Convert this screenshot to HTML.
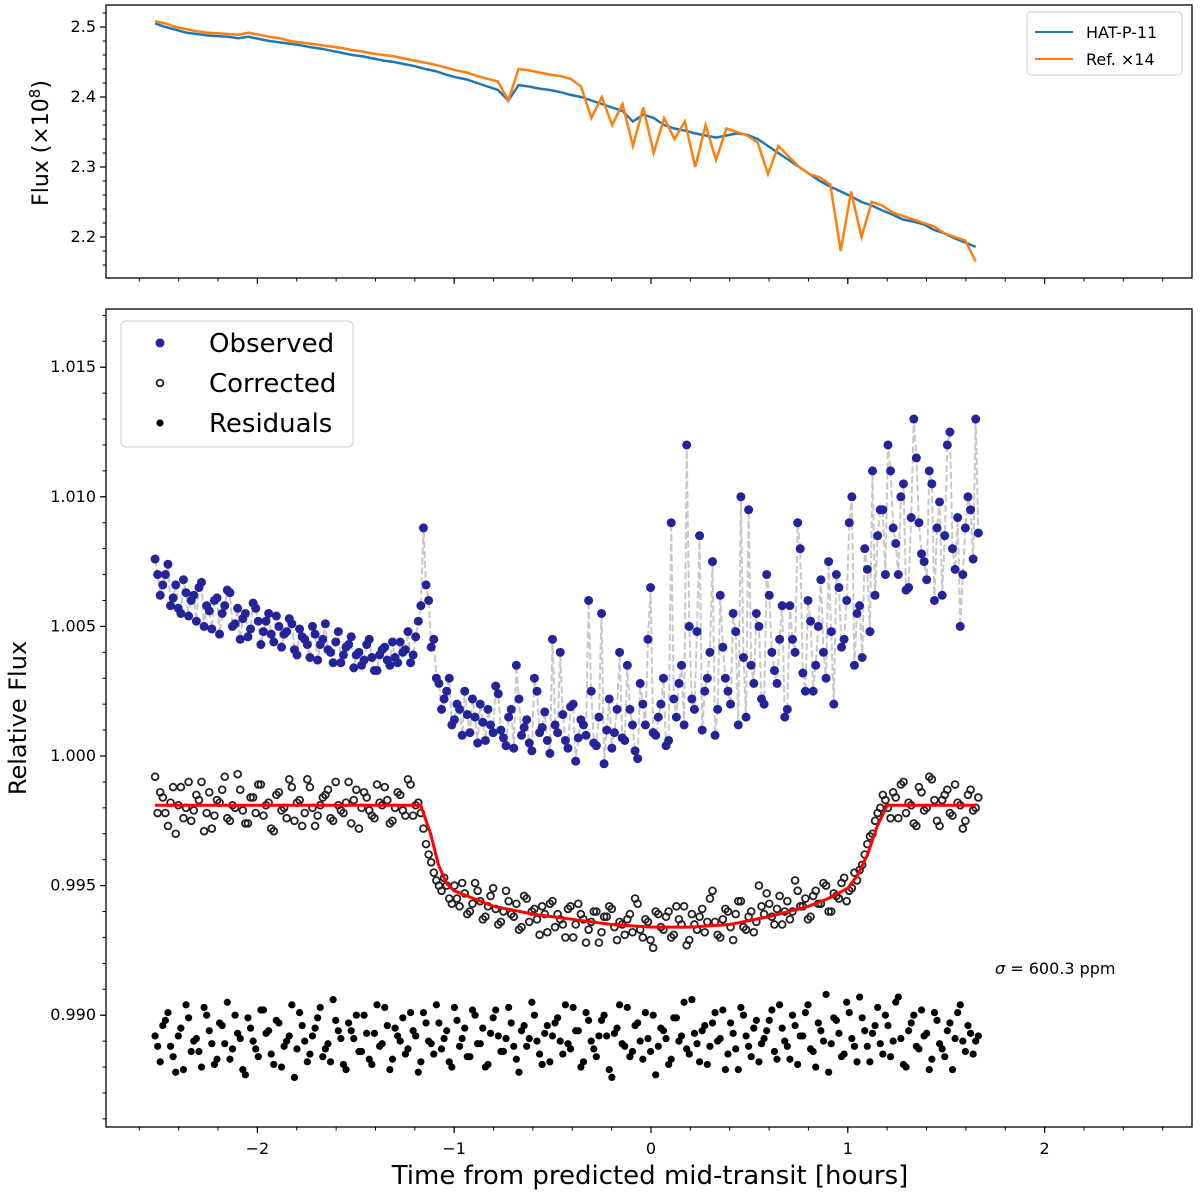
<!DOCTYPE html>
<html><head><meta charset="utf-8"><style>
body{margin:0;background:#fff}
svg{display:block;font-family:"DejaVu Sans","Liberation Sans",sans-serif}
</style></head><body>
<svg id="chart" width="1200" height="1199" viewBox="0 0 1200 1199" xmlns="http://www.w3.org/2000/svg"></svg>
<script>
// ---- data ----
const tStart = -2.52, tEnd = 1.65;
const specBlue = [2.505,2.500,2.496,2.492,2.490,2.488,2.487,2.486,2.484,2.486,
2.483,2.480,2.478,2.476,2.474,2.471,2.469,2.466,2.463,2.460,
2.458,2.455,2.452,2.450,2.447,2.444,2.440,2.437,2.432,2.428,
2.425,2.420,2.415,2.410,2.395,2.417,2.415,2.412,2.410,2.407,
2.403,2.400,2.395,2.390,2.385,2.380,2.365,2.375,2.370,2.360,
2.355,2.352,2.348,2.345,2.342,2.345,2.348,2.346,2.340,2.330,
2.320,2.310,2.300,2.290,2.280,2.272,2.265,2.258,2.250,2.245,
2.238,2.232,2.225,2.222,2.218,2.210,2.205,2.198,2.192,2.186];
const specOrange = [2.508,2.505,2.500,2.497,2.494,2.492,2.491,2.490,2.489,2.492,
2.489,2.486,2.484,2.480,2.478,2.476,2.474,2.472,2.470,2.467,
2.465,2.462,2.460,2.458,2.455,2.452,2.449,2.446,2.442,2.438,
2.435,2.430,2.426,2.422,2.395,2.440,2.438,2.435,2.432,2.430,
2.426,2.415,2.370,2.400,2.360,2.390,2.330,2.385,2.320,2.370,
2.340,2.365,2.300,2.360,2.310,2.355,2.350,2.345,2.335,2.290,
2.330,2.315,2.300,2.290,2.285,2.275,2.180,2.265,2.200,2.250,
2.245,2.235,2.230,2.225,2.220,2.215,2.205,2.200,2.195,2.165];
// relative flux values in units of 1e-4 around 1.0 (series A at integer steps, B at half steps)
const observed = [76,62,70,58,66,55,63,60,52,67,58,49,61,55,64,50,57,53,46,59,52,48,55,44,50,47,53,41,49,45,38,47,43,51,40,44,36,42,46,39,35,43,38,33,41,37,44,36,40,48,39,52,88,
60,45,28,22,30,14,18,25,9,15,20,6,12,27,
10,4,18,35,8,14,2,25,11,6,45,9,16,3,20,7,12,60,5,15,-3,22,9,40,6,18,2,28,12,65,8,20,4,90,
15,35,120,22,48,10,30,75,18,42,25,55,12,38,95,28,50,20,62,33,45,15,58,40,80,25,52,35,68,30,48,70,42,60,100,55,38,72,110,85,
95,120,88,70,105,65,130,90,75,110,60,98,85,125,72,50,88,95,130];
const observedB = [70,66,74,61,57,68,54,62,65,50,56,60,47,58,63,51,45,55,49,57,43,52,47,54,42,48,51,39,46,43,50,37,45,41,36,48,39,43,34,40,37,45,33,39,42,35,38,44,41,36,46,58,66,
42,30,18,25,12,20,8,16,22,5,13,18,9,24,
7,15,3,22,11,5,30,9,17,1,12,40,6,19,-2,14,8,25,4,55,10,3,18,7,35,12,-1,20,45,9,15,30,6,22,
28,12,50,18,85,25,40,8,62,30,20,48,100,15,35,55,22,70,40,28,58,18,45,90,32,60,25,50,40,75,20,65,45,90,35,58,80,48,62,95,
70,110,82,100,64,92,115,78,68,105,88,62,120,80,92,70,100,76,86];
const corrected = [-8,-14,-22,-18,-30,-12,-20,-25,-15,-10,-22,-28,-17,-13,-24,-19,-7,-21,-26,-16,-11,-23,-18,-29,-14,-20,-9,-25,-17,-22,-12,-27,-19,-15,-24,-10,-21,-18,-26,-13,-20,-16,-23,-11,-19,
-17,-25,-14,-21,-9,-23,-18,-28,-38,-45,-50,-47,-55,
-50,-58,-53,-60,-49,-56,-62,-54,-59,-64,-52,-61,-57,-66,-55,-60,-63,-58,-68,-56,
-61,-65,-59,-70,-57,-63,-67,-60,-72,-62,-58,-66,-64,-69,-61,-55,-67,-63,-71,-60,
-66,-62,-70,-58,-65,-73,-61,-67,-59,-64,-52,-69,-63,-60,-71,-56,-66,-62,-68,-50,
-61,-57,-65,-54,-60,-63,-48,-58,-55,-62,-52,-57,-50,-60,-54,-49,-56,-51,
-48,-42,-34,-30,-22,-15,
-20,-14,-24,-10,-18,-26,-12,-21,-8,-17,-27,-15,-22,-11,-19,-25,-13,-20];
const correctedB = [-22,-16,-27,-12,-19,-24,-10,-21,-17,-29,-14,-23,-18,-8,-25,-20,-13,-26,-16,-22,-11,-19,-28,-15,-21,-24,-12,-18,-27,-9,-20,-23,-16,-13,-25,-19,-22,-10,-17,-28,-14,-21,-24,-18,-12,-26,-20,-15,-23,-11,-19,-22,
-34,-41,-48,-52,-50,-57,
-55,-49,-61,-57,-52,-63,-58,-51,-65,-60,-56,-62,-67,-54,-64,-59,-69,-61,-57,-66,
-63,-70,-58,-65,-61,-72,-64,-60,-68,-62,-59,-71,-65,-63,-68,-57,-70,-64,-74,-61,
-67,-60,-69,-63,-58,-71,-65,-62,-68,-55,-64,-70,-59,-66,-61,-56,-67,-60,-64,-58,
-53,-62,-59,-65,-56,-60,-52,-58,-63,-54,-57,-49,-60,-53,-55,-47,-52,-45,
-44,-38,-31,-25,-20,-17,
-24,-16,-11,-22,-19,-27,-14,-20,-9,-25,-17,-13,-23,-18,-28,-15,-21,-16];
const residuals = [-108,-118,-102,-112,-122,-105,-96,-114,-109,-120,-100,-111,-117,-104,-95,-113,-107,-121,-101,-110,
-116,-98,-106,-119,-103,-112,-108,-124,-99,-110,-115,-105,-97,-113,-118,-102,-109,-121,-106,-100,
-114,-107,-119,-96,-111,-104,-117,-108,-101,-113,-106,-122,-99,-110,-115,-103,-109,-118,-97,-112,
-105,-116,-100,-111,-120,-107,-98,-114,-109,-103,-117,-106,-112,-95,-110,-119,-104,-108,-101,-115,
-111,-97,-106,-118,-102,-113,-108,-100,-121,-107,-96,-112,-116,-104,-110,-99,-114,-123,-105,-109,
-117,-101,-108,-113,-94,-111,-106,-119,-103,-110,-98,-115,-107,-121,-100,-112,-105,-118,-109,-102,
-114,-96,-110,-117,-104,-108,-99,-113,-120,-106,-92,-111,-102,-116,-95,-109,-118,-101,-112,-107,
-97,-115,-104,-110,-93,-119,-106,-100,-113,-108,-121,-99,-111,-116,-103,-109,-96,-114,-107,-110];
const residualsB = [-112,-104,-99,-116,-108,-121,-101,-110,-114,-97,-106,-119,-103,-111,-117,-100,-109,-123,-105,-113,
-98,-107,-115,-102,-120,-110,-96,-113,-104,-118,-108,-101,-116,-111,-94,-106,-119,-103,-109,-114,
-100,-117,-107,-112,-97,-121,-105,-110,-115,-99,-108,-118,-103,-111,-96,-113,-106,-120,-102,-109,
-116,-98,-111,-105,-119,-101,-108,-114,-97,-112,-122,-104,-109,-100,-115,-107,-118,-103,-110,-96,
-113,-106,-120,-99,-110,-116,-102,-108,-124,-105,-111,-97,-114,-103,-117,-109,-100,-112,-106,-119,
-101,-110,-95,-115,-107,-118,-104,-112,-99,-109,-121,-103,-113,-97,-108,-116,-102,-111,-106,-98,
-117,-105,-112,-100,-119,-108,-96,-114,-103,-110,-122,-101,-107,-115,-99,-112,-93,-106,-118,-104,
-111,-100,-116,-95,-109,-120,-103,-112,-98,-107,-117,-102,-113,-106,-121,-99,-110,-104,-115,-108];
const modelT = [-2.52,-1.17,-1.12,-1.08,-1.04,-1.0,-0.9,-0.8,-0.6,-0.4,-0.2,0,0.2,0.4,0.6,0.8,0.9,1.0,1.05,1.1,1.15,1.2,1.65];
const modelV = [-19,-19,-30,-42,-49,-52,-55,-58,-61,-63,-65,-66,-66,-65,-62,-58,-55,-51,-46,-38,-27,-19,-19];
const xTicks = [-2,-1,0,1,2];
const topYTicks = [2.2,2.3,2.4,2.5];
const botYTicks = [0.990,0.995,1.000,1.005,1.010,1.015];

// ---- layout ----
const NS = "http://www.w3.org/2000/svg";
const svg = document.getElementById('chart');
function el(tag, attrs, parent){const e=document.createElementNS(NS,tag);for(const k in attrs)e.setAttribute(k,attrs[k]);(parent||svg).appendChild(e);return e;}
const L=106,R=1192;
const xS = t => 651 + (t)*196.8;
const topT=5, topB=278;
const yTop = v => 27 + (2.5 - v)*700;
const botT=309, botB=1127;
const yBot = v => 756 - (v - 1.0)*25920;
const tAt = (i,n) => tStart + i*(tEnd-tStart)/(n-1);
const tAtB = (i,n) => tStart + (i+0.5)*(tEnd-tStart)/(n-1);

// ---- top panel ----
const gTop = el('g',{});


function linePath(arr, fy){return arr.map((v,i)=>(i?'L':'M')+xS(tAt(i,arr.length)).toFixed(1)+' '+fy(v).toFixed(1)).join(' ');}
const pb = el('path',{d:linePath(specBlue,yTop),fill:'none',stroke:'#1f77b4','stroke-width':2.5},gTop);


const po = el('path',{d:linePath(specOrange,yTop),fill:'none',stroke:'#ff7f0e','stroke-width':2.5},gTop);


el('rect',{x:L,y:topT,width:R-L,height:topB-topT,fill:'none',stroke:'#000','stroke-width':1.3},gTop);
for(let v=2.16; v<=2.521; v+=0.02){const y=yTop(v);if(y<topT||y>topB)continue;el('line',{x1:L,x2:L-3.5,y1:y,y2:y,stroke:'#000','stroke-width':1},gTop);}
topYTicks.forEach(v=>{const y=yTop(v);el('line',{x1:L,x2:L-6,y1:y,y2:y,stroke:'#000','stroke-width':1.2},gTop);
 const t=el('text',{x:L-10,y:y+5,'font-size':16,'text-anchor':'end'},gTop);t.textContent=v.toFixed(1);
 });
const ytl = el('text',{x:0,y:0,'font-size':22,'text-anchor':'middle',transform:'translate(48,143) rotate(-90)'},gTop);
ytl.innerHTML='Flux (×10<tspan dy="-8" font-size="15">8</tspan><tspan dy="8">)</tspan>';


// legend top
const lg1 = el('g',{},gTop);

el('rect',{x:1027,y:12,width:155,height:63,rx:4,fill:'#fff',stroke:'#ccc'},lg1);
el('line',{x1:1035,x2:1073,y1:32,y2:32,stroke:'#1f77b4','stroke-width':2},lg1);
el('line',{x1:1035,x2:1073,y1:59,y2:59,stroke:'#ff7f0e','stroke-width':2},lg1);
let t1=el('text',{x:1086,y:38,'font-size':16},lg1);t1.textContent='HAT-P-11';

let t2=el('text',{x:1086,y:65,'font-size':16},lg1);t2.textContent='Ref. ×14';


// x ticks for both panels
function xTicksFor(bottom, labels){
 for(let v=-2.6; v<=2.61; v+=0.2){const x=xS(v);if(x<L||x>R)continue;el('line',{x1:x,x2:x,y1:bottom,y2:bottom+3.5,stroke:'#000','stroke-width':1});}
 xTicks.forEach(v=>{const x=xS(v);el('line',{x1:x,x2:x,y1:bottom,y2:bottom+6,stroke:'#000','stroke-width':1.2});
  if(labels){const t=el('text',{x:x,y:bottom+27,'font-size':16,'text-anchor':'middle'});t.textContent=(v<0?'\u2212':'')+Math.abs(v);
  }});
}
xTicksFor(topB,false);
xTicksFor(botB,true);

// ---- bottom panel ----
const gB = el('g',{});

const obsA = observed.map((v,i)=>[xS(tAt(i,observed.length)), yBot(1+v*1e-4)]);
const obsB = observedB.map((v,i)=>[xS(tAtB(i,observedB.length)), yBot(1+v*1e-4)]);
const obsAll = [];
obsA.forEach((p,i)=>{obsAll.push(p); if(obsB[i]) obsAll.push(obsB[i]);});
const dash = el('path',{d:obsAll.map((p,i)=>(i?'L':'M')+p[0].toFixed(1)+' '+p[1].toFixed(1)).join(' '),fill:'none',stroke:'#c8c8c8','stroke-width':2,'stroke-dasharray':'7,3'},gB);

obsAll.forEach(p=>{const c=el('circle',{cx:p[0],cy:p[1],r:4.5,fill:'#23239a'},gB);
 });
corrected.forEach((v,i)=>{const c=el('circle',{cx:xS(tAt(i,corrected.length)),cy:yBot(1+v*1e-4),r:3.4,fill:'none',stroke:'#222','stroke-width':1.8},gB);
 });
correctedB.forEach((v,i)=>{const c=el('circle',{cx:xS(tAtB(i,correctedB.length)),cy:yBot(1+v*1e-4),r:3.4,fill:'none',stroke:'#222','stroke-width':1.8},gB);
 });
const mp = el('path',{d:modelT.map((t,i)=>(i?'L':'M')+xS(t).toFixed(1)+' '+yBot(1+modelV[i]*1e-4).toFixed(1)).join(' '),fill:'none',stroke:'#ff0000','stroke-width':3},gB);

residuals.forEach((v,i)=>{const c=el('circle',{cx:xS(tAt(i,residuals.length)),cy:yBot(1+v*1e-4),r:3.6,fill:'#000'},gB);
 });
residualsB.forEach((v,i)=>{const c=el('circle',{cx:xS(tAtB(i,residualsB.length)),cy:yBot(1+v*1e-4),r:3.6,fill:'#000'},gB);
 });
el('rect',{x:L,y:botT,width:R-L,height:botB-botT,fill:'none',stroke:'#000','stroke-width':1.3},gB);
for(let k=986; k<=1017; k++){const y=yBot(k/1000);if(y<botT||y>botB)continue;el('line',{x1:L,x2:L-3.5,y1:y,y2:y,stroke:'#000','stroke-width':1},gB);}
botYTicks.forEach(v=>{const y=yBot(v);el('line',{x1:L,x2:L-6,y1:y,y2:y,stroke:'#000','stroke-width':1.2},gB);
 const t=el('text',{x:L-10,y:y+5,'font-size':16,'text-anchor':'end'},gB);t.textContent=v.toFixed(3);
 });
const yl=el('text',{x:0,y:0,'font-size':24,'text-anchor':'middle',transform:'translate(26,718) rotate(-90)'},gB);yl.textContent='Relative Flux';

const xl=el('text',{x:650,y:1184,'font-size':26,'text-anchor':'middle'},gB);xl.textContent='Time from predicted mid-transit [hours]';

const sg=el('text',{x:995,y:974,'font-size':16},gB);sg.innerHTML='<tspan font-style="italic">σ</tspan> = 600.3 ppm';


// legend bottom
const lg2 = el('g',{},gB);

el('rect',{x:121,y:321,width:232,height:126,rx:5,fill:'#fff',stroke:'#ccc'},lg2);
el('circle',{cx:160,cy:343,r:4.5,fill:'#23239a'},lg2);
el('circle',{cx:160,cy:383,r:3.4,fill:'none',stroke:'#222','stroke-width':1.8},lg2);
el('circle',{cx:160,cy:423,r:3.6,fill:'#000'},lg2);
[['Observed',352],['Corrected',392],['Residuals',432]].forEach(([s,y])=>{const t=el('text',{x:209,y:y,'font-size':26},lg2);t.textContent=s;
 });
</script>
</body></html>
